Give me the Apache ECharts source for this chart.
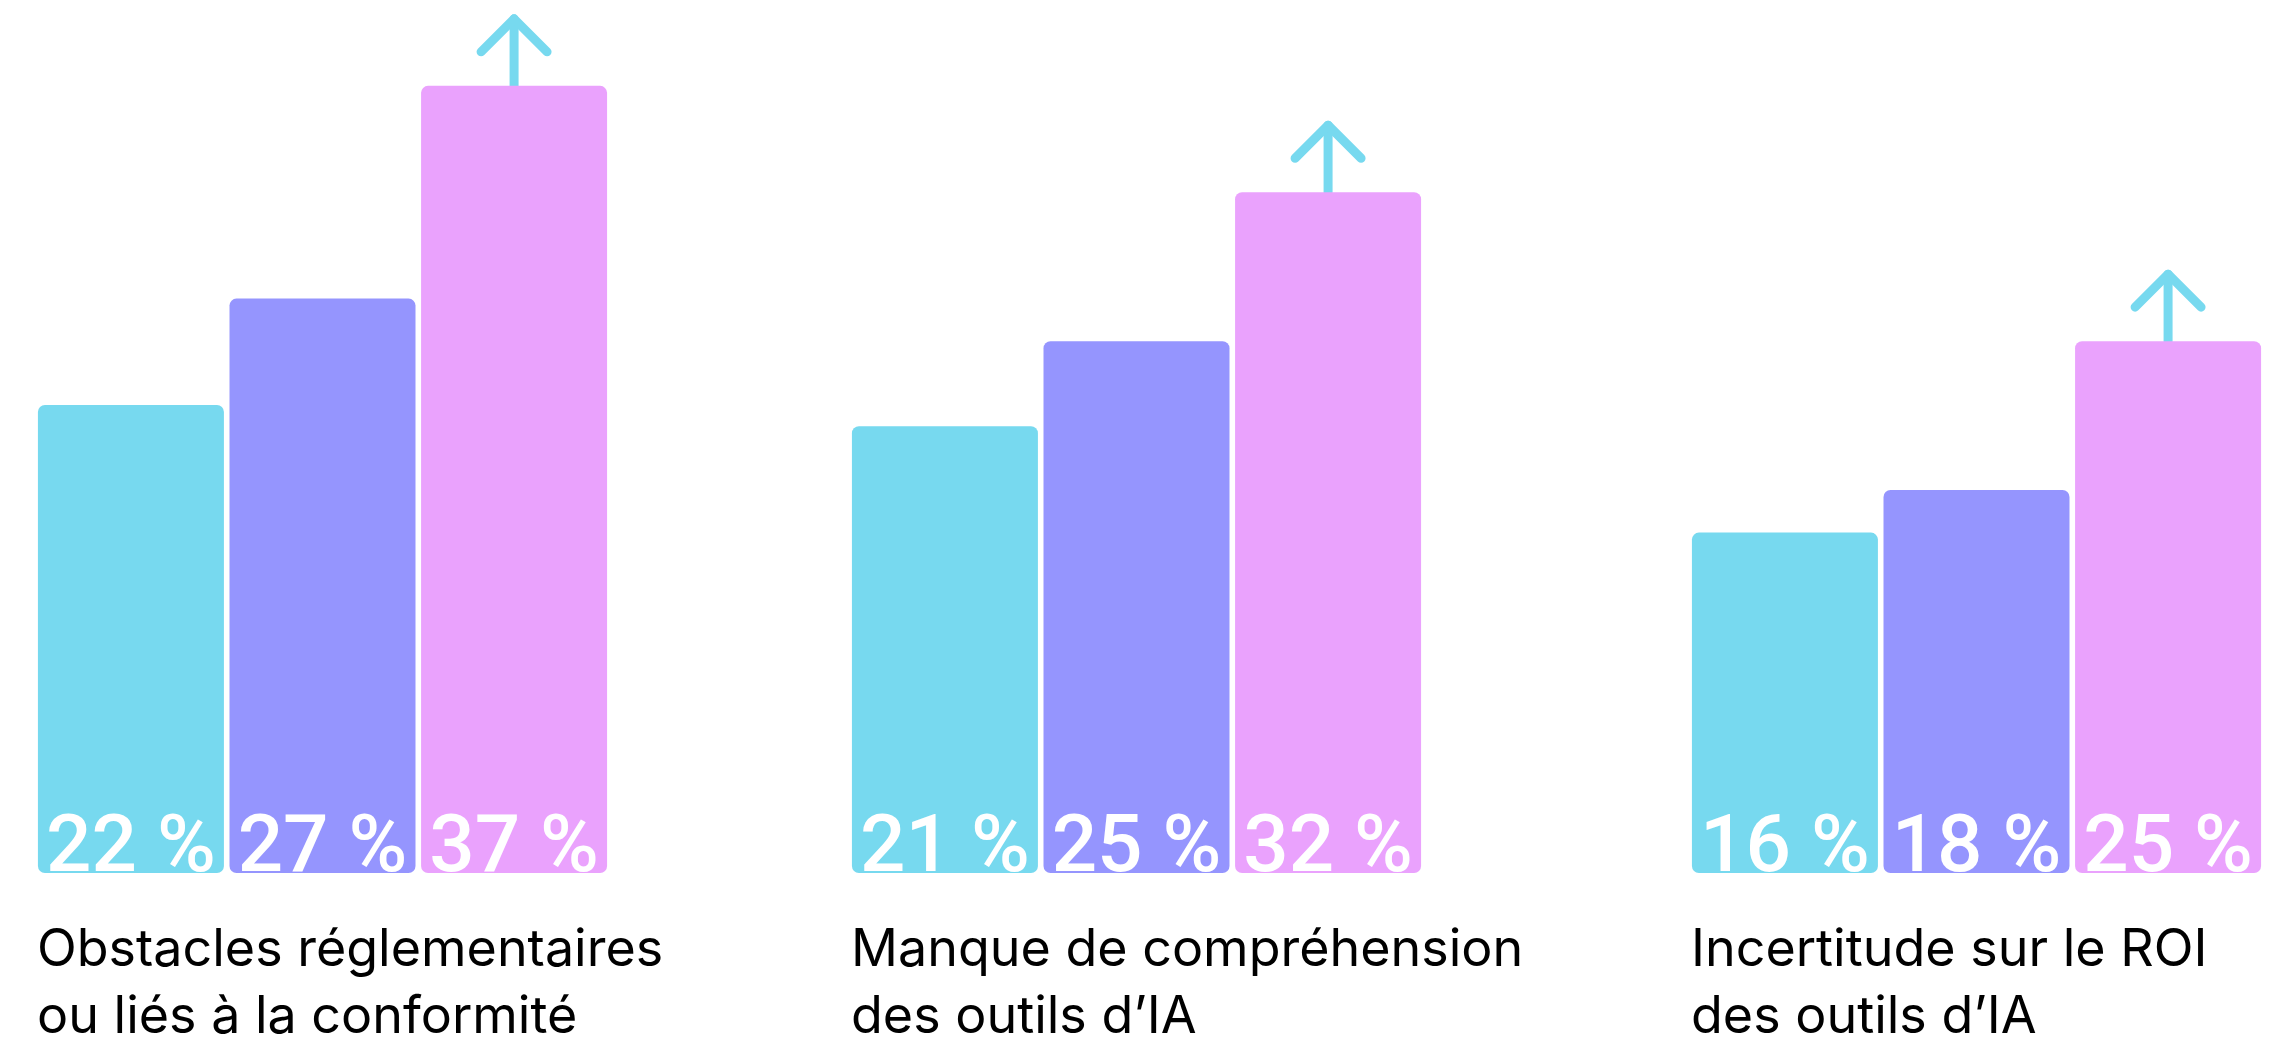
<!DOCTYPE html>
<html lang="fr">
<head>
<meta charset="utf-8">
<title>Obstacles à l'adoption de l'IA</title>
<script src="https://cdn.jsdelivr.net/npm/echarts@6/dist/echarts.min.js"></script>
<style>
  html, body { margin: 0; padding: 0; background: #ffffff; }
  #chart { width: 2285px; height: 1047px; }
</style>
</head>
<body>
<div id="chart"></div>
<script>
// Obstacles (category names, one per group of bars)
const categories = [
  'Obstacles réglementaires\nou liés à la conformité',
  'Manque de compréhension\ndes outils d’IA',
  'Incertitude sur le ROI\ndes outils d’IA'
];

// Share of respondents (%) for each of the three bars in a group
const valuesCyan   = [22, 21, 16];
const valuesViolet = [27, 25, 18];
const valuesPink   = [37, 32, 25];

// Value axis range
const axisMin = 0;
const axisMax = 40;

// Layout and styling
const COLORS = ['#77D9EF', '#9595FE', '#EAA2FD'];
const GROUP_LEFT = [37, 851, 1691];
const GROUP_W = 571;
const PLOT_TOP = 22;
const PLOT_H = 851;
const BAR_W = 186;
const BAR_GAP = '3%';
const BAR_GAP_PX = BAR_W * 0.03;

const chart = echarts.init(document.getElementById('chart'), null, { renderer: 'canvas' });

const seriesValues = [valuesCyan, valuesViolet, valuesPink];

const grids = [], xAxes = [], yAxes = [], series = [], titles = [];

categories.forEach(function (cat, g) {
  grids.push({ left: GROUP_LEFT[g], top: PLOT_TOP, width: GROUP_W, height: PLOT_H, containLabel: false });
  xAxes.push({
    gridIndex: g, type: 'category', data: [cat],
    show: false
  });
  yAxes.push({
    gridIndex: g, type: 'value', min: axisMin, max: axisMax,
    show: false, splitLine: { show: false }
  });

  seriesValues.forEach(function (vals, s) {
    series.push({
      type: 'bar',
      xAxisIndex: g, yAxisIndex: g,
      barWidth: BAR_W,
      barGap: BAR_GAP,
      data: [vals[g]],
      z: 3,
      itemStyle: { color: COLORS[s], borderRadius: 7 },
      label: {
        show: true,
        position: 'insideBottom',
        distance: 0,
        offset: [0, 18],
        formatter: function (p) { return p.value + ' %'; },
        color: '#ffffff',
        fontFamily: 'Roboto',
        fontSize: 80,
        lineHeight: 80,
        fontWeight: 500
      },
      silent: true
    });
  });

  // Upward arrow rising from the top of the last bar of the group
  series.push({
    type: 'custom',
    xAxisIndex: g, yAxisIndex: g,
    z: 1,
    silent: true,
    data: [[0, valuesPink[g]]],
    renderItem: function (params, api) {
      const p = api.coord([api.value(0), api.value(1)]);
      const x = p[0] + BAR_W + BAR_GAP_PX;
      const y = p[1];
      const tipY = y - 67;
      const style = {
        stroke: COLORS[0], fill: null, lineWidth: 9,
        lineCap: 'round', lineJoin: 'round'
      };
      return {
        type: 'group',
        children: [
          { type: 'line', shape: { x1: x, y1: y + 6, x2: x, y2: tipY }, style: style },
          { type: 'polyline', shape: { points: [[x - 33, tipY + 33], [x, tipY], [x + 33, tipY + 33]] }, style: style }
        ]
      };
    }
  });

  titles.push({
    text: cat,
    left: GROUP_LEFT[g],
    top: 917,
    padding: 0,
    textStyle: {
      fontFamily: 'Inter',
      fontSize: 52,
      lineHeight: 67,
      fontWeight: 400,
      color: '#000000'
    }
  });
});

chart.setOption({
  backgroundColor: '#ffffff',
  animation: false,
  title: titles,
  grid: grids,
  xAxis: xAxes,
  yAxis: yAxes,
  series: series
});
</script>
</body>
</html>
